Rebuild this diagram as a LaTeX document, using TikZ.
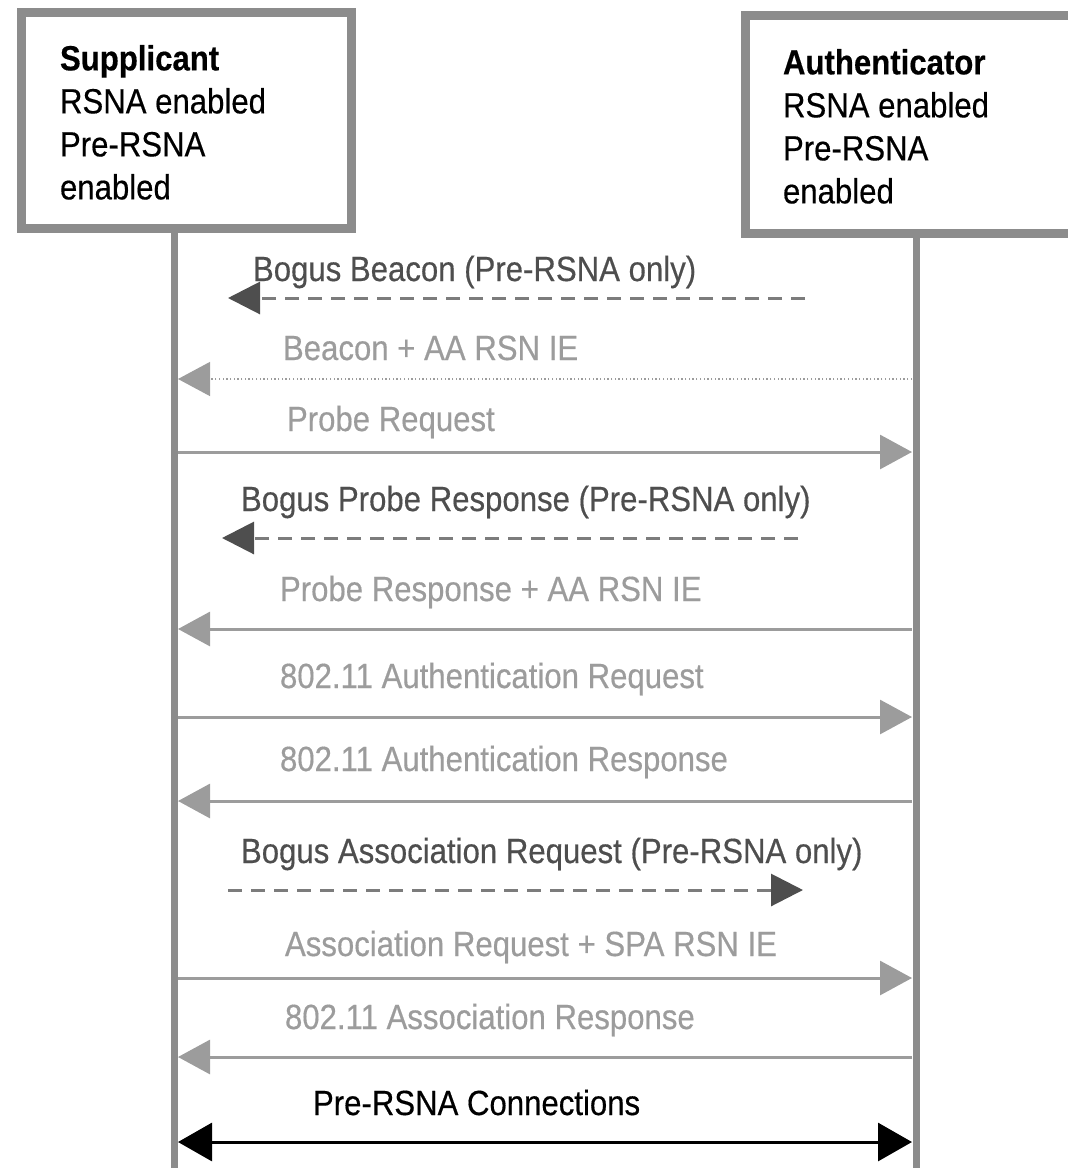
\documentclass[tikz,border=0pt]{standalone}
\usepackage{fontspec}
\setmainfont{Liberation Sans}[FakeStretch=0.89,FakeBold=0.4]
\usetikzlibrary{arrows.meta}
\definecolor{frame}{HTML}{8C8C8C}
\definecolor{light}{HTML}{9C9C9C}
\definecolor{bogus}{HTML}{4E4E4E}
\definecolor{bogusline}{HTML}{7C7C7C}
\begin{document}
\begin{tikzpicture}[x=1pt,y=-1pt,
  every node/.style={inner sep=0pt, outer sep=0pt, font=\fontsize{35}{43}\selectfont},
  actor/.style={draw=frame, line width=9pt, fill=white, anchor=north west},
  actortext/.style={anchor=north west, align=left, text=black},
  lifeline/.style={draw=frame, line width=7pt},
  lbl/.style={anchor=base west, text=light},
  boguslbl/.style={anchor=base west, text=bogus},
  msg/.style={draw=light, line width=3pt, -{Triangle[length=32pt,width=34pt]}},
  beaconmsg/.style={draw=light, line width=1.3pt, dash pattern=on 1.3pt off 2.4pt,
    -{Triangle[length=32pt,width=34pt]}},
  bogusmsg/.style={draw=bogusline, line width=3pt, dash pattern=on 14pt off 9pt,
    -{Triangle[length=32pt,width=32pt,color=bogus]}},
  connmsg/.style={draw=black, line width=3pt,
    {Triangle[length=34pt,width=38pt]}-{Triangle[length=34pt,width=38pt]}}]

\clip (0,0) rectangle (1068,1168);

% lifelines
\coordinate (sTop) at (174,230);
\coordinate (sBot) at (174,1175);
\coordinate (aTop) at (916,230);
\coordinate (aBot) at (916,1175);
\draw[lifeline] (sTop) -- (sBot);
\draw[lifeline] (aTop) -- (aBot);

% actor boxes
\node[actor, minimum width=330pt, minimum height=216pt] (sup) at (21.5,12) {};
\node[actor, minimum width=360pt, minimum height=218pt] (auth) at (745,15) {};
\node[actortext] (supT) at (60,45) {\bfseries Supplicant\\RSNA enabled\\Pre-RSNA\\enabled};
\node[actortext] (authT) at (783,49) {\bfseries Authenticator\\RSNA enabled\\Pre-RSNA\\enabled};

% message end points on the lifelines
\foreach \n/\y in {2/379,3/452,5/629,6/717,7/801,9/978,10/1057,11/1142}{
  \coordinate (s\n) at (178,\y);
  \coordinate (a\n) at (912,\y);
}
% end points of the bogus messages
\coordinate (b1a) at (805,298); \coordinate (b1s) at (228,298);
\coordinate (b4a) at (798,538); \coordinate (b4s) at (222,538);
\coordinate (b8s) at (228,890); \coordinate (b8a) at (803,890);

% messages
\node[boguslbl] (l1) at (253,281) {Bogus Beacon (Pre-RSNA only)};
\draw[bogusmsg] (b1a) -- (b1s);

\node[lbl] (l2) at (283,360) {Beacon + AA RSN IE};
\draw[beaconmsg] (a2) -- (s2);

\node[lbl] (l3) at (287,431) {Probe Request};
\draw[msg] (s3) -- (a3);

\node[boguslbl] (l4) at (241,511) {Bogus Probe Response (Pre-RSNA only)};
\draw[bogusmsg] (b4a) -- (b4s);

\node[lbl] (l5) at (280,601) {Probe Response + AA RSN IE};
\draw[msg] (a5) -- (s5);

\node[lbl] (l6) at (280,688) {802.11 Authentication Request};
\draw[msg] (s6) -- (a6);

\node[lbl] (l7) at (280,771) {802.11 Authentication Response};
\draw[msg] (a7) -- (s7);

\node[boguslbl] (l8) at (241,863) {Bogus Association Request (Pre-RSNA only)};
\draw[bogusmsg] (b8s) -- (b8a);

\node[lbl] (l9) at (285,956) {Association Request + SPA RSN IE};
\draw[msg] (s9) -- (a9);

\node[lbl] (l10) at (285,1029) {802.11 Association Response};
\draw[msg] (a10) -- (s10);

\node[anchor=base west, text=black] (l11) at (313,1115) {Pre-RSNA Connections};
\draw[connmsg] (s11) -- (a11);

\end{tikzpicture}
\end{document}
